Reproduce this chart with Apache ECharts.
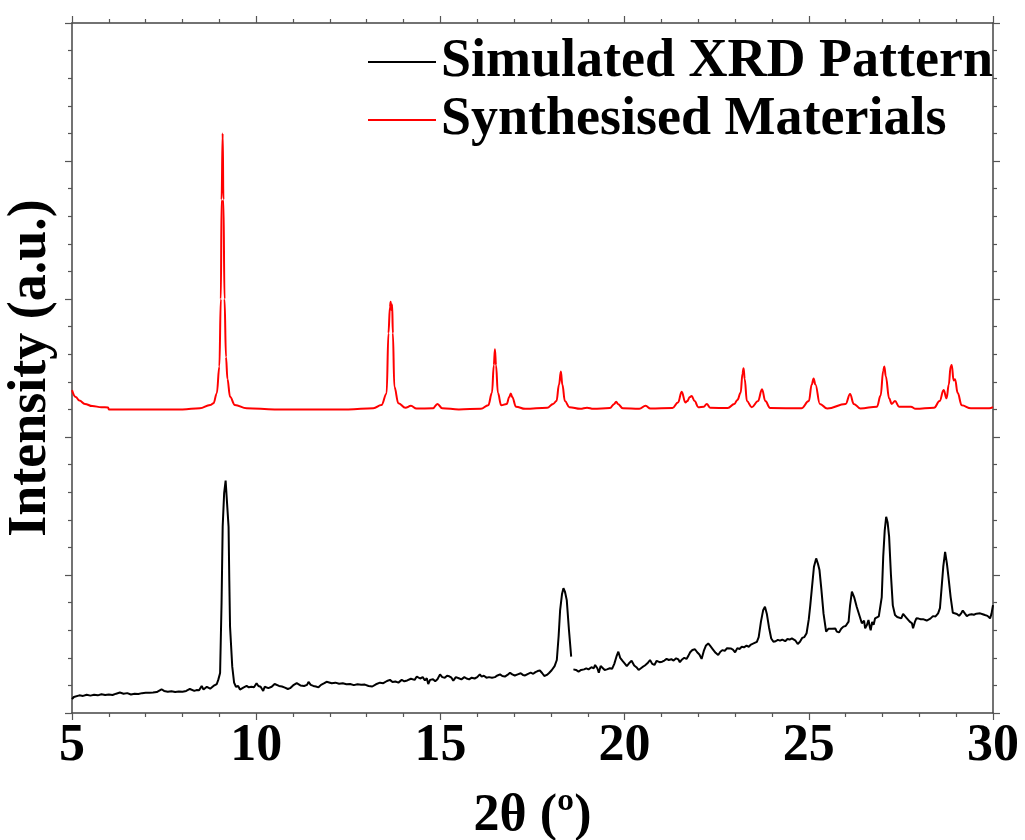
<!DOCTYPE html>
<html>
<head>
<meta charset="utf-8">
<script src="https://cdn.jsdelivr.net/npm/echarts@6/dist/echarts.min.js"></script>
<style>html,body{margin:0;padding:0;background:#fff}#c{width:1025px;height:840px}</style>
</head>
<body>
<div id="c"></div>
<script>
const seriesNames = ['Simulated XRD Pattern', 'Synthesised Materials'];
const xTicks = [5, 10, 15, 20, 25, 30];

const synthX = [5.00,5.10,5.20,5.35,5.55,5.80,5.98,6.00,7.00,8.00,8.47,8.75,8.84,8.93,9.00,9.04,9.06,9.09,9.11,9.14,9.18,9.22,9.29,9.42,9.74,10.5,12.5,13.18,13.40,13.54,13.59,13.63,13.65,13.67,13.69,13.71,13.75,13.86,14.05,14.20,14.35,14.80,14.92,15.05,15.50,16.10,16.30,16.40,16.45,16.48,16.51,16.56,16.65,16.80,16.87,16.91,16.95,17.05,17.30,17.90,18.06,18.15,18.22,18.27,18.31,18.38,18.50,18.80,18.98,19.15,19.60,19.72,19.77,19.82,19.95,20.40,20.57,20.70,21.30,21.45,21.55,21.65,21.70,21.77,21.82,21.90,22.00,22.15,22.23,22.32,22.80,22.98,23.06,23.15,23.20,23.23,23.26,23.32,23.45,23.62,23.73,23.82,23.95,24.80,25.00,25.08,25.13,25.18,25.30,25.50,26.00,26.12,26.22,26.40,26.85,26.95,27.02,27.05,27.09,27.18,27.25,27.34,27.45,27.77,27.90,28.40,28.55,28.66,28.74,28.80,28.85,28.88,28.93,28.97,29.04,29.15,29.40,29.90,30.00];
const synthY = [11.70,11.45,11.32,11.20,11.12,11.08,11.07,11.00,11.00,11.00,11.04,11.16,11.22,11.58,12.55,15.0,18.6,21.0,18.6,15.0,12.9,12.1,11.46,11.16,11.04,11.0,11.0,11.04,11.16,11.58,13.76,14.7,14.9,14.6,14.8,13.76,11.82,11.22,11.06,11.13,11.03,11.04,11.20,11.04,11.0,11.02,11.15,11.6,12.6,13.18,12.6,11.6,11.15,11.2,11.45,11.58,11.45,11.1,11.02,11.06,11.2,11.3,11.9,12.37,11.9,11.3,11.08,11.02,11.06,11.02,11.05,11.2,11.28,11.2,11.04,11.02,11.13,11.03,11.05,11.25,11.64,11.25,11.3,11.45,11.49,11.3,11.08,11.1,11.2,11.06,11.05,11.2,11.34,11.6,12.3,12.49,12.1,11.3,11.08,11.3,11.73,11.3,11.05,11.04,11.3,11.9,12.12,11.9,11.2,11.03,11.2,11.56,11.2,11.03,11.1,11.5,12.4,12.55,12.2,11.4,11.2,11.3,11.1,11.1,11.02,11.06,11.3,11.7,11.4,11.9,12.55,12.61,12.05,12.09,11.6,11.15,11.04,11.04,11.08];

const simX = [5.00,5.05,5.10,5.20,5.30,5.40,5.50,5.60,5.70,5.80,5.90,6.00,6.10,6.20,6.30,6.40,6.50,6.60,6.70,6.80,6.90,7.00,7.10,7.20,7.30,7.43,7.50,7.60,7.70,7.80,7.90,8.00,8.10,8.20,8.25,8.32,8.38,8.45,8.52,8.57,8.61,8.66,8.70,8.75,8.79,8.84,8.88,8.93,8.97,9.02,9.06,9.09,9.13,9.17,9.22,9.25,9.27,9.29,9.35,9.40,9.45,9.51,9.56,9.60,9.65,9.70,9.74,9.80,9.87,9.94,10.01,10.06,10.12,10.19,10.23,10.28,10.33,10.38,10.42,10.50,10.55,10.62,10.70,10.78,10.86,10.92,11.00,11.10,11.20,11.30,11.38,11.42,11.48,11.55,11.62,11.69,11.76,11.85,11.91,11.96,12.05,12.15,12.25,12.35,12.45,12.55,12.65,12.75,12.85,12.95,13.05,13.15,13.25,13.36,13.45,13.55,13.63,13.70,13.78,13.86,13.95,14.02,14.10,14.20,14.30,14.36,14.40,14.45,14.52,14.58,14.63,14.67,14.72,14.80,14.86,14.92,14.99,15.05,15.12,15.18,15.24,15.30,15.35,15.42,15.50,15.57,15.65,15.71,15.78,15.85,15.93,16.00,16.07,16.12,16.18,16.25,16.32,16.40,16.48,16.55,16.62,16.68,16.75,16.82,16.89,16.95,17.02,17.10,17.18,17.24,17.30,17.38,17.45,17.52,17.58,17.64,17.70,17.76,17.82,17.89,17.95,18.02,18.10,18.16,18.21,18.25,18.30,18.34,18.38,18.43,18.49,18.55,18.58,18.61,18.68,18.75,18.82,18.90,18.96,19.02,19.10,19.16,19.20,19.26,19.30,19.35,19.40,19.46,19.52,19.60,19.66,19.72,19.78,19.83,19.88,19.95,20.00,20.06,20.12,20.19,20.26,20.32,20.38,20.42,20.48,20.55,20.62,20.69,20.75,20.81,20.87,20.95,21.02,21.08,21.14,21.20,21.27,21.33,21.40,21.46,21.50,21.56,21.62,21.68,21.73,21.78,21.84,21.91,21.97,22.03,22.09,22.15,22.21,22.27,22.33,22.40,22.47,22.54,22.60,22.66,22.72,22.78,22.82,22.88,22.94,23.00,23.06,23.12,23.18,23.24,23.31,23.37,23.43,23.50,23.55,23.59,23.64,23.70,23.76,23.81,23.86,23.92,23.98,24.04,24.10,24.16,24.22,24.28,24.31,24.36,24.42,24.48,24.54,24.58,24.64,24.70,24.76,24.82,24.88,24.94,25.00,25.04,25.08,25.14,25.20,25.25,25.29,25.34,25.40,25.47,25.53,25.58,25.63,25.68,25.72,25.76,25.82,25.88,25.94,26.00,26.04,26.08,26.12,26.17,26.23,26.30,26.37,26.44,26.50,26.53,26.58,26.62,26.66,26.68,26.72,26.76,26.80,26.85,26.90,26.93,26.98,27.02,27.06,27.10,27.14,27.18,27.23,27.28,27.34,27.40,27.45,27.51,27.56,27.60,27.65,27.70,27.74,27.80,27.83,27.88,27.92,27.98,28.04,28.10,28.15,28.20,28.24,28.30,28.37,28.44,28.51,28.56,28.60,28.65,28.70,28.75,28.79,28.85,28.91,28.96,29.02,29.08,29.14,29.18,29.24,29.29,29.35,29.42,29.48,29.55,29.60,29.65,29.72,29.78,29.85,29.92,29.96,30.00];
const simY = [0.50,0.58,0.63,0.64,0.62,0.66,0.63,0.66,0.64,0.68,0.65,0.67,0.65,0.70,0.74,0.70,0.72,0.67,0.70,0.69,0.72,0.73,0.73,0.74,0.76,0.86,0.80,0.77,0.79,0.76,0.78,0.77,0.80,0.87,0.93,0.80,0.83,0.82,0.98,0.85,0.83,0.95,0.98,0.88,0.90,0.98,1.01,1.05,1.20,1.45,4.0,6.75,7.97,8.42,8.42,6.75,4.8,3.13,1.68,1.10,0.95,0.98,0.85,0.80,0.92,0.90,0.98,0.93,0.95,0.93,1.08,0.98,0.95,0.80,0.95,1.01,0.90,0.96,0.95,1.05,1.00,0.98,0.96,0.92,0.87,0.90,1.00,1.08,1.00,0.98,1.02,1.13,1.02,0.98,0.96,0.93,1.02,1.08,1.13,1.10,1.08,1.10,1.06,1.08,1.04,1.05,1.01,1.04,1.02,1.03,0.98,0.96,1.04,1.10,1.08,1.16,1.20,1.12,1.14,1.10,1.20,1.15,1.18,1.24,1.20,1.32,1.38,1.25,1.30,1.18,1.26,1.05,1.20,1.22,1.15,1.22,1.40,1.30,1.28,1.35,1.33,1.28,1.17,1.30,1.26,1.22,1.30,1.25,1.22,1.28,1.25,1.30,1.40,1.32,1.35,1.28,1.30,1.28,1.30,1.36,1.40,1.34,1.32,1.38,1.46,1.40,1.36,1.40,1.44,1.38,1.36,1.42,1.46,1.42,1.48,1.52,1.54,1.45,1.34,1.38,1.45,1.55,1.70,1.92,2.8,3.73,4.3,4.52,4.4,4.09,3.0,2.04,null,1.58,1.56,1.50,1.56,1.58,1.62,1.58,1.66,1.62,1.74,1.62,1.46,1.70,1.68,1.56,1.58,1.62,1.60,1.78,2.05,2.22,2.0,1.88,1.80,1.70,1.80,1.89,1.72,1.66,1.56,1.53,1.66,1.72,1.80,1.92,1.78,1.74,1.89,1.84,1.86,1.90,1.96,1.92,1.95,1.90,1.98,1.94,1.84,1.94,2.00,1.96,2.07,2.20,2.28,2.31,2.20,2.12,1.96,2.25,2.45,2.52,2.42,2.30,2.18,2.10,2.22,2.28,2.25,2.35,2.40,2.34,2.30,2.20,2.35,2.32,2.40,2.38,2.44,2.40,2.48,2.52,2.47,2.58,2.75,3.3,3.72,3.85,3.6,3.1,2.7,2.58,2.60,2.65,2.62,2.66,2.64,2.60,2.68,2.66,2.70,2.71,2.62,2.50,2.58,2.72,2.75,2.89,3.4,3.9,4.46,5.3,5.6,5.40,5.18,4.5,3.6,2.95,3.05,3.09,3.05,2.98,3.06,2.95,2.92,3.05,3.13,3.15,3.22,3.31,3.9,4.4,4.2,3.85,3.55,3.25,3.35,3.07,3.20,3.37,3.10,3.00,3.30,3.20,3.43,3.40,3.50,3.51,4.2,5.66,6.6,7.11,6.9,6.39,5.0,3.9,3.55,3.48,3.52,3.43,3.59,3.59,3.45,3.38,3.31,3.25,3.07,3.30,3.43,3.42,3.40,3.40,3.44,3.35,3.31,3.42,3.51,3.50,3.61,3.80,4.46,5.3,5.84,5.4,4.94,4.2,3.63,3.65,3.59,3.52,3.62,3.71,3.60,3.51,3.56,3.58,3.56,3.60,3.62,3.61,3.58,3.55,3.52,3.43,3.60,3.91];

const zip = (xs, ys) => xs.map((x, i) => [x, ys[i] === null ? null : ys[i]]);

const font = "'Liberation Serif','Times New Roman',serif";
const axisLineStyle = { color: '#444', width: 1.5 };
const tickStyle = { color: '#555', width: 1.2 };

const xBase = {
  type: 'value', min: xTicks[0], max: xTicks[xTicks.length - 1], interval: 5,
  splitLine: { show: false },
  axisLine: { show: true, onZero: false, lineStyle: axisLineStyle },
  axisTick: { show: true, length: 7, lineStyle: tickStyle },
  minorTick: { show: true, splitNumber: 5, length: 4, lineStyle: tickStyle }
};
const yBase = {
  type: 'value', min: 0, max: 25, interval: 5,
  splitLine: { show: false },
  axisLine: { show: true, onZero: false, lineStyle: axisLineStyle },
  axisTick: { show: true, length: 7, lineStyle: tickStyle },
  minorTick: { show: true, splitNumber: 5, length: 4, lineStyle: tickStyle },
  axisLabel: { show: false }
};

const chart = echarts.init(document.getElementById('c'), null, { renderer: 'canvas' });
chart.setOption({
  animation: false,
  backgroundColor: '#fff',
  grid: { left: 72, right: 32, top: 23, bottom: 127, containLabel: false, outerBoundsMode: 'none' },
  legend: {
    orient: 'vertical', left: 368, top: 33, padding: 0,
    icon: 'rect', itemWidth: 68, itemHeight: 2, itemGap: 0,
    data: seriesNames,
    textStyle: { fontFamily: font, fontWeight: 'bold', fontSize: 54, color: '#000', lineHeight: 58 }
  },
  xAxis: [
    Object.assign({}, xBase, {
      position: 'bottom',
      name: '2θ (º)', nameLocation: 'middle', nameGap: 78,
      nameTextStyle: { fontFamily: font, fontWeight: 'bold', fontSize: 52, color: '#000' },
      axisLabel: { show: true, fontFamily: font, fontWeight: 'bold', fontSize: 52, color: '#000', margin: 8 }
    }),
    Object.assign({}, xBase, { position: 'top', axisLabel: { show: false } })
  ],
  yAxis: [
    Object.assign({}, yBase, {
      position: 'left',
      name: 'Intensity (a.u.)', nameLocation: 'middle', nameGap: 14,
      nameTextStyle: { fontFamily: font, fontWeight: 'bold', fontSize: 54, color: '#000' }
    }),
    Object.assign({}, yBase, { position: 'right' })
  ],
  series: [
    {
      name: seriesNames[0], type: 'line', xAxisIndex: 0, yAxisIndex: 0,
      data: zip(simX, simY), symbol: 'none', connectNulls: false,
      lineStyle: { color: '#000', width: 2 }, itemStyle: { color: '#000' }
    },
    {
      name: seriesNames[1], type: 'line', xAxisIndex: 0, yAxisIndex: 0,
      data: zip(synthX, synthY), symbol: 'none', smooth: 0.4, smoothMonotone: 'x',
      lineStyle: { color: '#ff0000', width: 2 }, itemStyle: { color: '#ff0000' }
    }
  ]
});
</script>
</body>
</html>
